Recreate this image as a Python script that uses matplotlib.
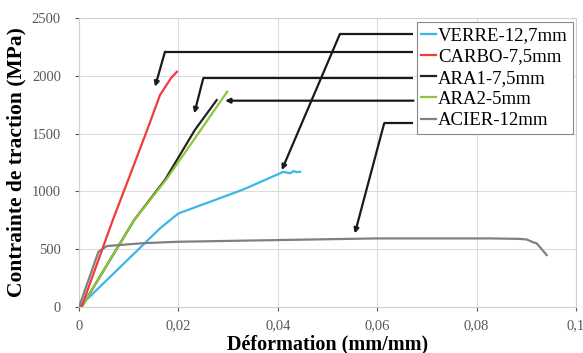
import matplotlib.pyplot as plt

# strain (mm/mm) / stress (MPa)
verre_x = [0, 0.0163, 0.0200, 0.0264, 0.0331, 0.0401, 0.0411, 0.0425, 0.0431, 0.0438, 0.0445]
verre_y = [0, 681, 810, 911, 1018, 1150, 1170, 1157, 1176, 1168, 1170]

carbo_x = [0.0005, 0.0068, 0.0099, 0.0137, 0.0163, 0.0185, 0.0197]
carbo_y = [0, 753, 1100, 1530, 1834, 1980, 2035]

ara1_x = [0.0005, 0.0111, 0.0173, 0.0233, 0.0277]
ara1_y = [0, 753, 1100, 1531, 1790]

ara2_x = [0.0005, 0.0111, 0.0175, 0.0243, 0.0298]
ara2_y = [0, 753, 1100, 1520, 1862]

acier_x = [0, 0.0039, 0.0056, 0.0129, 0.0199, 0.0404, 0.0599, 0.0827, 0.0887, 0.0901, 0.0914, 0.0921, 0.0941]
acier_y = [0, 478, 528, 553, 565, 580, 594, 594, 590, 585, 560, 551, 450]

labels = ['VERRE-12,7mm', 'CARBO-7,5mm', 'ARA1-7,5mm', 'ARA2-5mm', 'ACIER-12mm']
colors = ['#3bb6e6', '#f23a3a', '#222222', '#8cc63f', '#808080']

# leader lines: (start, knee, tip) in data coords
leaders = [
    [(0.0673, 2362), (0.0525, 2362), (0.0408, 1185)],
    [(0.0673, 2208), (0.0173, 2208), (0.0153, 1906)],
    [(0.0673, 1978), (0.0250, 1978), (0.0232, 1676)],
    [(0.0673, 1785), (0.0673, 1785), (0.0294, 1785)],
    [(0.0673, 1589), (0.0614, 1589), (0.0555, 637)],
]

plt.rcParams['font.family'] = 'Liberation Serif'

fig = plt.figure(figsize=(5.83, 3.53), dpi=100)
ax = fig.add_axes([0.1355, 0.130, 0.8525, 0.819])

series = [(verre_x, verre_y), (carbo_x, carbo_y), (ara1_x, ara1_y),
          (ara2_x, ara2_y), (acier_x, acier_y)]
zorders = [3, 4, 2, 3, 3]
for (x, y), lab, c, z in zip(series, labels, colors, zorders):
    ax.plot(x, y, color=c, lw=1.6, label=lab, zorder=z)

for start, knee, tip in leaders:
    ax.plot([start[0], knee[0]], [start[1], knee[1]], color='#1a1a1a', lw=1.6,
            solid_capstyle='butt', zorder=5)
    ax.annotate('', xy=tip, xytext=knee,
                arrowprops=dict(arrowstyle='-|>', color='#1a1a1a', lw=1.6,
                                mutation_scale=7, shrinkA=0, shrinkB=0),
                zorder=5)

ax.set_xlim(0, 0.1)
ax.set_ylim(0, 2500)
ax.set_xticks([0, 0.02, 0.04, 0.06, 0.08, 0.1])
ax.set_xticklabels(['0', '0,02', '0,04', '0,06', '0,08', '0,1'])
ax.set_yticks([0, 500, 1000, 1500, 2000, 2500])
ax.tick_params(labelsize=10.5, colors='#595959', length=3, width=0.8)
ax.tick_params(axis='x', pad=6)
ax.tick_params(axis='y', pad=10)
ax.grid(True, color='#dcdcdc', lw=0.8)
ax.set_axisbelow(True)
for s in ax.spines.values():
    s.set_color('#d0d0d0')

ax.set_xlabel('Déformation (mm/mm)', fontsize=14.5, fontweight='bold', labelpad=1)
ax.set_ylabel('Contrainte de traction (MPa)', fontsize=15.5, fontweight='bold', labelpad=4)

leg = ax.legend(loc='upper right', bbox_to_anchor=(0.993, 0.985), fontsize=13.5,
                handlelength=0.8, handletextpad=0.1, borderpad=0.25,
                labelspacing=0.22, fancybox=False, framealpha=1,
                edgecolor='#888888', borderaxespad=0)
leg.get_frame().set_linewidth(0.8)
leg.set_zorder(6)

fig.savefig('out.png', dpi=100)
